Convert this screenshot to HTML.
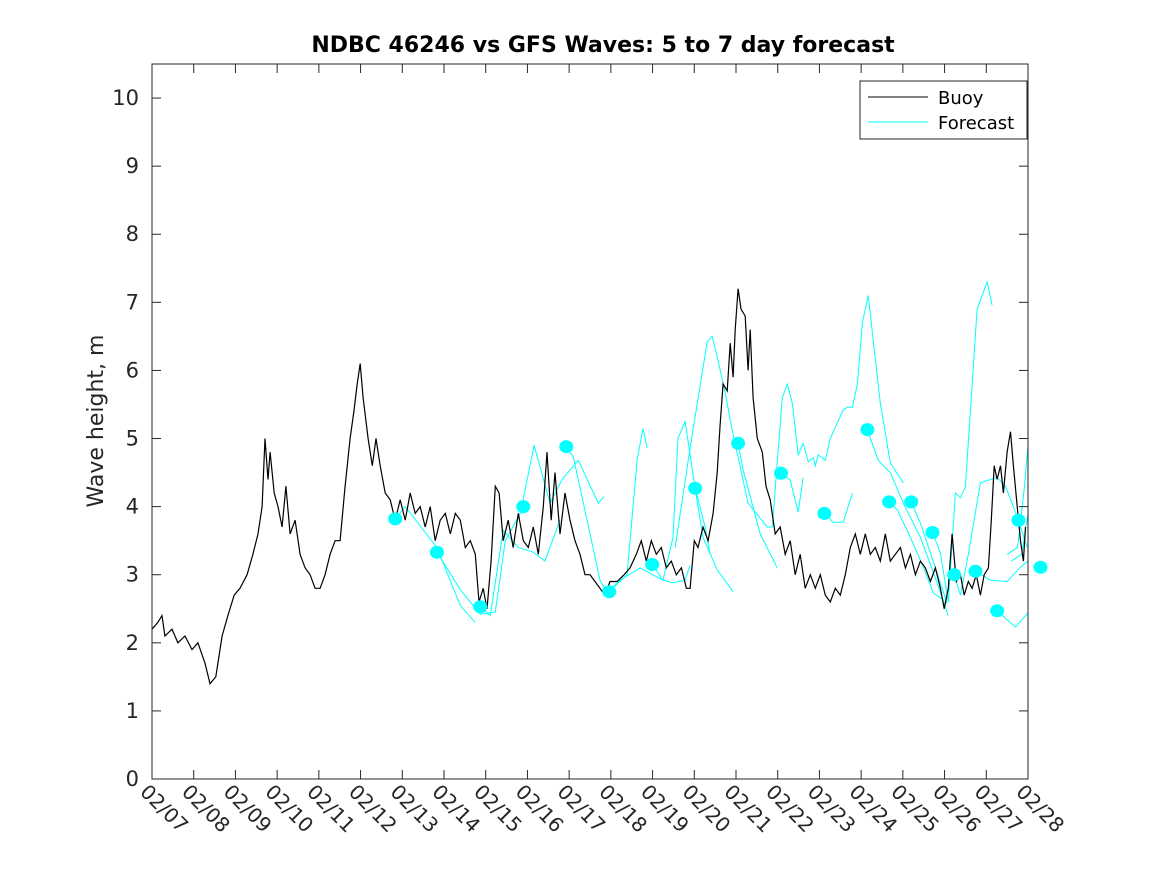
<!DOCTYPE html>
<html><head><meta charset="utf-8"><style>
body{margin:0;background:#fff;}
svg{display:block;font-family:"DejaVu Sans","Liberation Sans",sans-serif;}
</style></head><body>
<svg id="chart" width="1167" height="875">
<rect width="1167" height="875" fill="#fff"/>
<text x="603" y="52" text-anchor="middle" font-size="22" font-weight="bold" fill="#000">NDBC 46246 vs GFS Waves: 5 to 7 day forecast</text>
<text transform="translate(103,421) rotate(-90)" text-anchor="middle" font-size="22" fill="#262626">Wave height, m</text>
<g id="marks"></g>
<g id="axes"></g>
<g>
<rect x="860" y="81" width="167" height="58" fill="#fff" stroke="#262626" stroke-width="1"/>
<line x1="868" y1="97" x2="928" y2="97" stroke="#000" stroke-width="1"/>
<text x="938" y="104" font-size="18" fill="#000">Buoy</text>
<line x1="868" y1="122" x2="928" y2="122" stroke="#00ffff" stroke-width="1"/>
<text x="938" y="129" font-size="18" fill="#000">Forecast</text>
</g>
</svg>
<script>
const xTickLabels=["02/07","02/08","02/09","02/10","02/11","02/12","02/13","02/14","02/15","02/16","02/17","02/18","02/19","02/20","02/21","02/22","02/23","02/24","02/25","02/26","02/27","02/28"];
const yTicks=[0,1,2,3,4,5,6,7,8,9,10];
const buoyDays=[0,.14,.24,.31,.48,.62,.79,.96,1.10,1.27,1.39,1.53,1.68,1.82,1.97,2.11,2.28,2.42,2.54,2.64,2.71,2.78,2.83,2.93,3.02,3.12,3.21,3.31,3.43,3.55,3.67,3.79,3.91,4.03,4.15,4.27,4.39,4.51,4.63,4.75,4.84,4.92,4.99,5.06,5.18,5.28,5.37,5.47,5.59,5.71,5.83,5.95,6.07,6.19,6.31,6.43,6.55,6.67,6.79,6.91,7.03,7.15,7.27,7.39,7.51,7.63,7.75,7.84,7.94,8.03,8.13,8.23,8.32,8.42,8.54,8.66,8.78,8.90,9.02,9.14,9.26,9.38,9.47,9.57,9.66,9.78,9.90,10.02,10.14,10.26,10.38,10.50,10.62,10.74,10.86,10.98,11.15,11.32,11.46,11.61,11.73,11.85,11.97,12.09,12.21,12.33,12.45,12.57,12.69,12.81,12.90,13.00,13.09,13.21,13.33,13.45,13.55,13.62,13.69,13.79,13.86,13.93,13.98,14.05,14.12,14.22,14.29,14.34,14.41,14.51,14.63,14.72,14.82,14.94,15.06,15.18,15.30,15.42,15.54,15.66,15.78,15.90,16.02,16.14,16.26,16.38,16.50,16.62,16.74,16.86,16.98,17.10,17.22,17.34,17.46,17.58,17.70,17.82,17.94,18.06,18.18,18.30,18.42,18.54,18.66,18.78,18.90,18.99,19.09,19.18,19.28,19.38,19.47,19.57,19.66,19.76,19.86,19.95,20.05,20.12,20.19,20.26,20.34,20.41,20.50,20.58,20.65,20.74,20.82,20.89,20.94];
const buoyValues=[2.2,2.3,2.4,2.1,2.2,2.0,2.1,1.9,2.0,1.7,1.4,1.5,2.1,2.4,2.7,2.8,3.0,3.3,3.6,4.0,5.0,4.4,4.8,4.2,4.0,3.7,4.3,3.6,3.8,3.3,3.1,3.0,2.8,2.8,3.0,3.3,3.5,3.5,4.3,5.0,5.4,5.8,6.1,5.6,5.0,4.6,5.0,4.6,4.2,4.1,3.8,4.1,3.8,4.2,3.9,4.0,3.7,4.0,3.5,3.8,3.9,3.6,3.9,3.8,3.4,3.5,3.3,2.6,2.8,2.5,3.2,4.3,4.2,3.5,3.8,3.4,3.9,3.5,3.4,3.7,3.3,4.0,4.8,3.8,4.5,3.6,4.2,3.8,3.5,3.3,3.0,3.0,2.9,2.8,2.7,2.9,2.9,3.0,3.1,3.3,3.5,3.2,3.5,3.3,3.4,3.1,3.2,3.0,3.1,2.8,2.8,3.5,3.4,3.7,3.5,3.9,4.5,5.2,5.8,5.7,6.4,5.9,6.6,7.2,6.9,6.8,6.0,6.6,5.6,5.0,4.8,4.3,4.1,3.6,3.7,3.3,3.5,3.0,3.3,2.8,3.0,2.8,3.0,2.7,2.6,2.8,2.7,3.0,3.4,3.6,3.3,3.6,3.3,3.4,3.2,3.6,3.2,3.3,3.4,3.1,3.3,3.0,3.2,3.1,2.9,3.1,2.8,2.5,2.8,3.6,2.9,3.0,2.7,2.9,2.8,3.0,2.7,3.0,3.1,3.8,4.6,4.4,4.6,4.2,4.8,5.1,4.6,4.0,3.5,3.2,3.7];
const fcDays=[
[5.83,6.07,6.83,7.39,7.75],
[6.83,7.39,7.87,8.23,8.47,8.83,9.16,9.54,9.83,10.22,10.70,10.84],
[7.87,8.11,8.42,8.78,9.14,9.42,9.78],
[9.93,10.10,10.43,10.74,10.91,11.22,11.70,12.25,12.49,12.78,12.90],
[10.96,11.39,11.63,11.77,11.87],
[11.99,12.25,12.49,12.61,12.78,13.02,13.26,13.38],
[12.54,12.90,13.31,13.43,13.55,13.74,13.91,14.29,14.75,14.87],
[13.02,13.21,13.55,13.93],
[14.05,14.17,14.58,14.99],
[14.87,15.11,15.23,15.35,15.49,15.61,15.73,15.85,15.90,15.97,16.14,16.26,16.57,16.67,16.79,16.91,17.03,17.17,17.46,17.70,18.01],
[15.08,15.30,15.49,15.61],
[16.12,16.33,16.57,16.79],
[17.15,17.41,17.70,18.01,18.42,18.82,19.09],
[17.67,17.87,18.18,18.49,18.73,18.97],
[18.20,18.42,18.66,19.06],
[18.71,18.90,19.09,19.26,19.38,19.50,19.78,20.02,20.14],
[19.23,19.38,19.57,19.86,20.26,20.46,20.74,20.98],
[19.74,20.10,20.50,20.82,21.0],
[20.26,20.70,21.0],
[20.50,20.75,20.90,21.0],
[20.60,20.85,21.0]
];
const fcValues=[
[3.82,4.0,3.4,2.55,2.3],
[3.33,2.78,2.42,2.45,3.5,3.9,4.9,4.05,4.4,4.68,4.05,4.15],
[2.53,2.4,3.65,3.4,3.33,3.2,3.8],
[4.88,4.73,3.8,2.92,2.73,2.92,3.1,2.92,2.88,2.92,3.14],
[2.75,3.0,4.68,5.15,4.86],
[3.15,2.92,3.55,5.0,5.25,4.28,3.7,3.3],
[3.4,4.86,6.42,6.5,6.2,5.67,5.12,4.05,3.7,3.7],
[4.27,3.55,3.07,2.75],
[4.93,4.54,3.6,3.1],
[3.7,5.6,5.8,5.52,4.76,4.93,4.66,4.72,4.6,4.76,4.68,5.0,5.42,5.46,5.46,5.8,6.7,7.1,5.52,4.64,4.35],
[4.49,4.39,3.92,4.43],
[3.9,3.77,3.77,4.2],
[5.13,4.68,4.5,4.05,3.55,2.88,2.4],
[4.07,3.95,3.55,3.11,2.73,2.63],
[4.07,3.76,3.32,2.58],
[3.62,3.32,2.6,4.2,4.13,4.29,6.9,7.3,6.96],
[3.0,2.7,3.3,4.35,4.43,4.3,3.85,3.4],
[3.05,2.92,2.9,3.11,3.2],
[2.47,2.23,2.44],
[3.3,3.4,4.2,4.9],
[3.2,3.3,3.9]
];
const dotDays=[5.83,6.83,7.87,8.90,9.93,10.96,11.99,13.02,14.05,15.08,16.12,17.15,17.67,18.2,18.71,19.23,19.74,20.26,20.77,21.3];
const dotValues=[3.82,3.33,2.53,4.0,4.88,2.75,3.15,4.27,4.93,4.49,3.9,5.13,4.07,4.07,3.62,3.0,3.05,2.47,3.8,3.11];

const X0=152,X1=1028,Y0=779,Y1=64,XMAX=21,YMAX=10.5;
const xs=d=>X0+(X1-X0)*d/XMAX;
const ys=v=>Y0-(Y0-Y1)*v/YMAX;
const NS="http://www.w3.org/2000/svg";
const marks=document.getElementById('marks'),axes=document.getElementById('axes');
function mk(tag,attrs,parent){const e=document.createElementNS(NS,tag);for(const k in attrs)e.setAttribute(k,attrs[k]);parent.appendChild(e);return e;}

fcDays.forEach((ds,i)=>{
  const p=mk('polyline',{points:ds.map((d,j)=>xs(d).toFixed(1)+','+ys(fcValues[i][j]).toFixed(1)).join(' '),fill:'none',stroke:'#00ffff','stroke-width':1},marks);
  
  
});
const b=mk('polyline',{points:buoyDays.map((d,j)=>xs(d).toFixed(1)+','+ys(buoyValues[j]).toFixed(1)).join(' '),fill:'none',stroke:'#000','stroke-width':1.2},marks);


dotDays.forEach((d,i)=>{
  const c=mk('ellipse',{cx:xs(d),cy:ys(dotValues[i]),rx:7,ry:6.5,fill:'#00ffff'},marks);
  
  
});

const fr=mk('rect',{x:X0,y:Y1,width:X1-X0,height:Y0-Y1,fill:'none',stroke:'#262626','stroke-width':1},axes);


yTicks.forEach(v=>{
  const y=ys(v);
  mk('line',{x1:X0,y1:y,x2:X0+9,y2:y,stroke:'#262626'},axes);
  mk('line',{x1:X1,y1:y,x2:X1-9,y2:y,stroke:'#262626'},axes);
  const t=mk('text',{x:X0-13,y:y+7,'text-anchor':'end','font-size':21,fill:'#262626'},axes);
  t.textContent=v;
  
  
});
xTickLabels.forEach((l,i)=>{
  const x=xs(i);
  mk('line',{x1:x,y1:Y0,x2:x,y2:Y0-9,stroke:'#262626'},axes);
  mk('line',{x1:x,y1:Y1,x2:x,y2:Y1+9,stroke:'#262626'},axes);
  const t=mk('text',{transform:`translate(${x-13},${Y0+14}) rotate(45)`,'font-size':20,fill:'#262626'},axes);
  t.textContent=l;
  
  
});
</script>
</body></html>
